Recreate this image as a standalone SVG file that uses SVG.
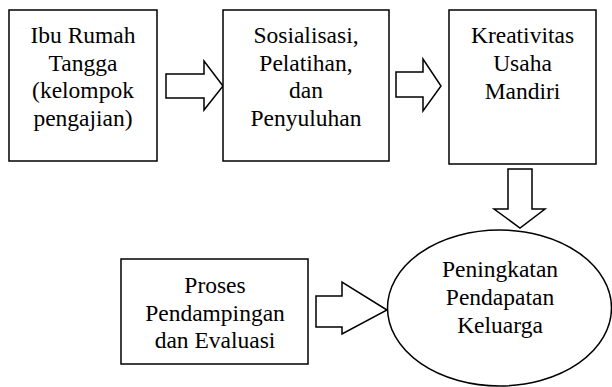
<svg xmlns="http://www.w3.org/2000/svg" width="612" height="387" viewBox="0 0 612 387">
<style>
.box{fill:#fff;stroke:#000;stroke-width:1.5}
.arr{fill:#fff;stroke:#000;stroke-width:1.5;stroke-linejoin:miter}
</style>
<rect width="612" height="387" fill="#fff"/>
<g id="connectors">
<path class="arr" d="M166,74 H204 V61 L223,86 L204,110 V98 H166 Z"/>
<path class="arr" d="M396,72 H423 V59 L441,86 L423,111 V97 H396 Z"/>
<path class="arr" d="M508,169 H532 V209 H545 L520,228 L494,209 H508 Z"/>
<path class="arr" d="M316,296 H342 V282 L387,310 L342,334 V327 H316 Z"/>
</g>
<g font-family="Liberation Serif, Times New Roman, serif" font-size="23.5" fill="#000" text-anchor="middle">
<g id="node-ibu">
<rect class="box" x="9" y="10" width="148" height="151"/>
<text x="83" y="43">Ibu Rumah</text>
<text x="83" y="71">Tangga</text>
<text x="83" y="98">(kelompok</text>
<text x="83" y="126">pengajian)</text>
</g>
<g id="node-sosialisasi">
<rect class="box" x="223" y="10" width="166" height="151"/>
<text x="306" y="43">Sosialisasi,</text>
<text x="306" y="71">Pelatihan,</text>
<text x="306" y="98">dan</text>
<text x="306" y="126">Penyuluhan</text>
</g>
<g id="node-kreativitas">
<rect class="box" x="449" y="10" width="147" height="154"/>
<text x="522.5" y="43">Kreativitas</text>
<text x="522.5" y="71">Usaha</text>
<text x="522.5" y="99">Mandiri</text>
</g>
<g id="node-proses">
<rect class="box" x="121" y="259" width="187" height="105"/>
<text x="215" y="293">Proses</text>
<text x="215" y="321">Pendampingan</text>
<text x="215" y="348">dan Evaluasi</text>
</g>
<g id="node-peningkatan">
<ellipse class="box" cx="499.5" cy="308" rx="112" ry="78"/>
<text x="500" y="277">Peningkatan</text>
<text x="500" y="305">Pendapatan</text>
<text x="500" y="333">Keluarga</text>
</g>
</g>
</svg>
